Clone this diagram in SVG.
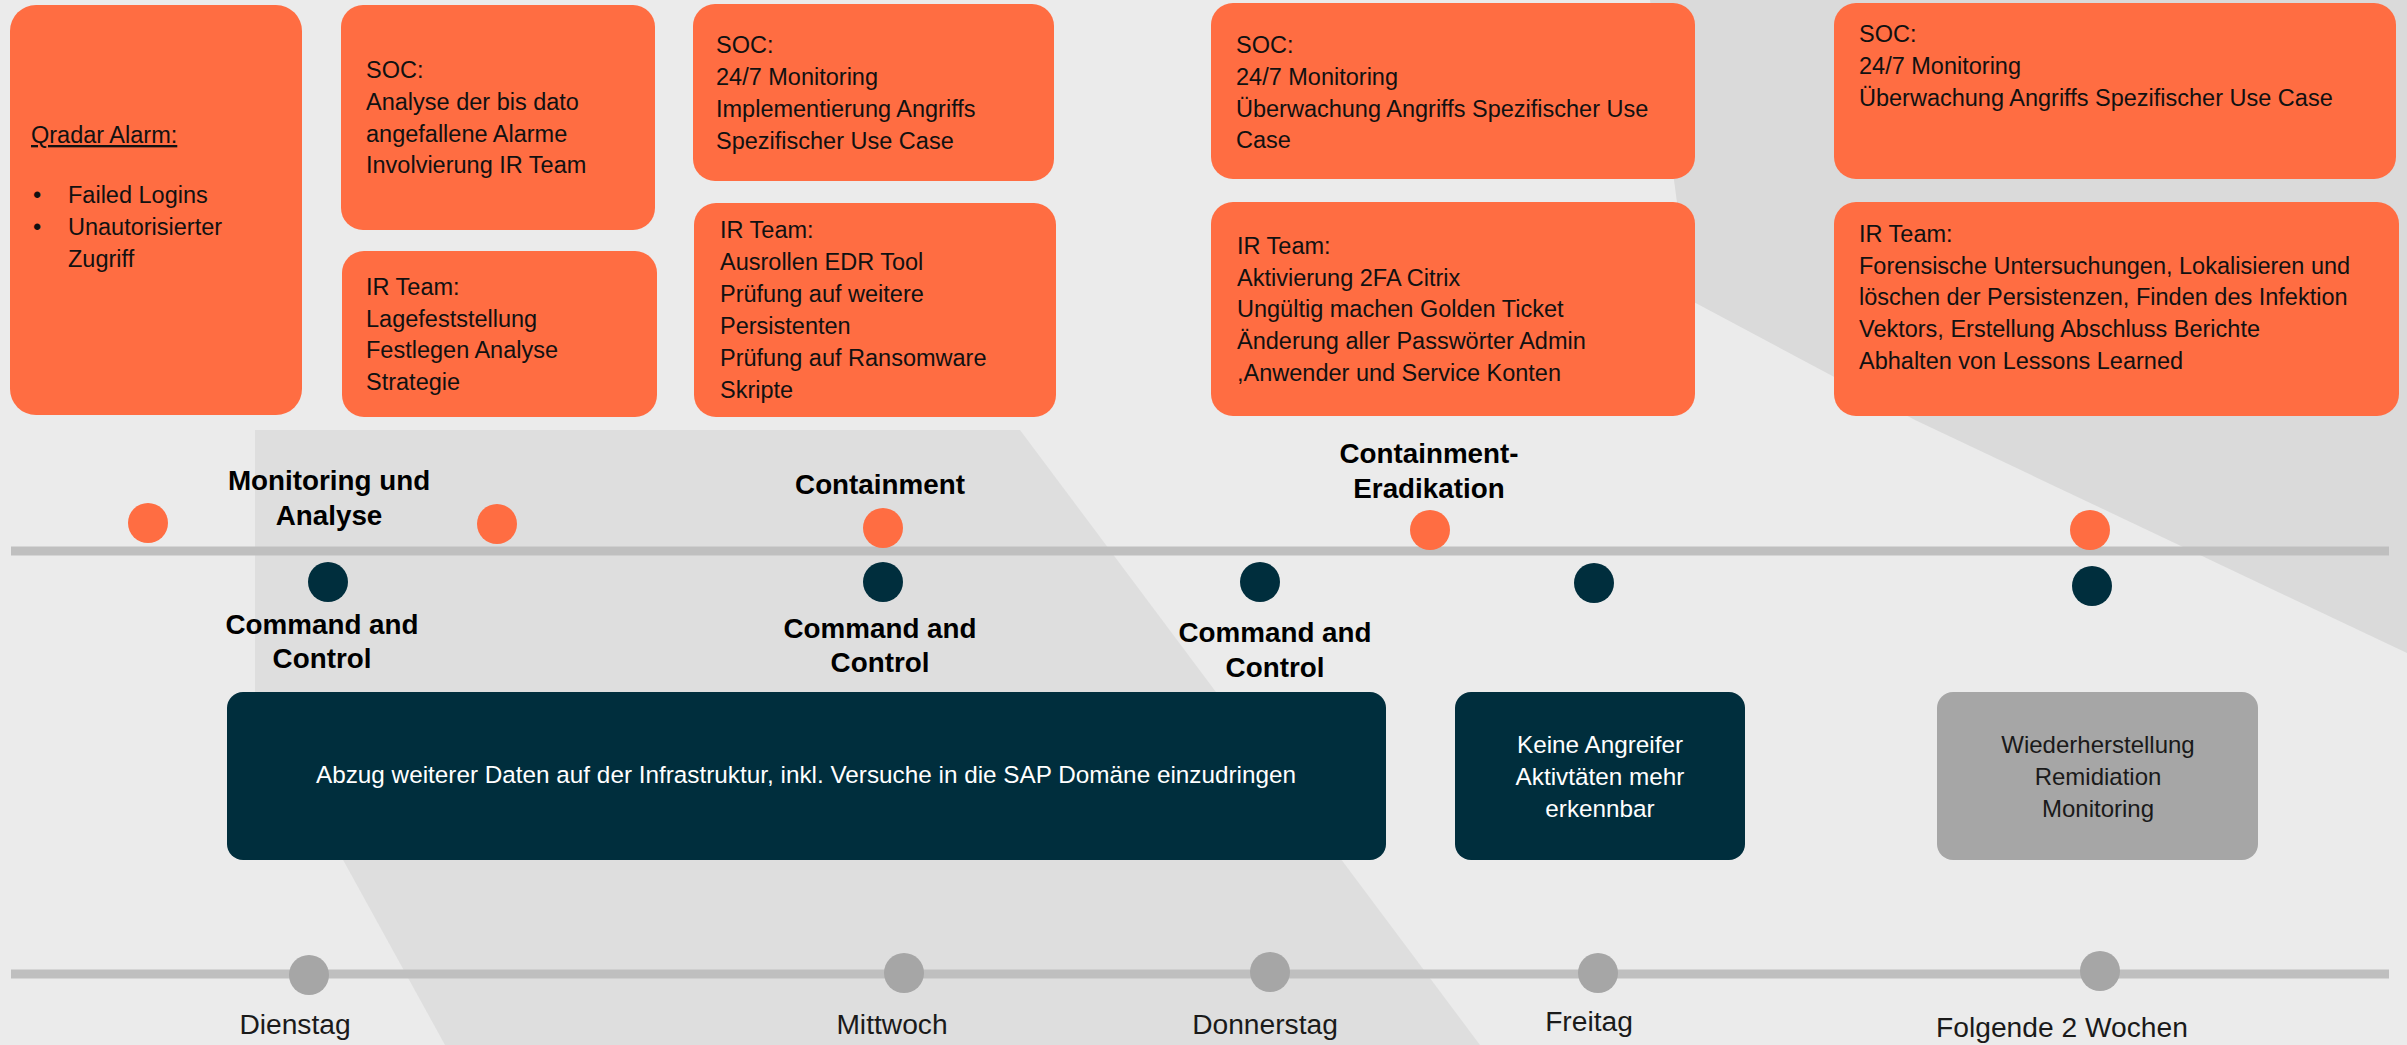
<svg xmlns="http://www.w3.org/2000/svg" width="2407" height="1045" viewBox="0 0 2407 1045">
<style>
.ob{fill:#FF6D42}
.db{fill:#002E3D}
.gb{fill:#A6A6A6}
.t{font-family:"Liberation Sans",Arial,sans-serif;font-size:23.5px;fill:#111}
.w{font-family:"Liberation Sans",Arial,sans-serif;font-size:24.3px;fill:#fff;text-anchor:middle}
.k{font-family:"Liberation Sans",Arial,sans-serif;font-size:24px;fill:#1a1a1a;text-anchor:middle}
.h{font-family:"Liberation Sans",Arial,sans-serif;font-size:27.8px;font-weight:bold;fill:#000;text-anchor:middle}
.d{font-family:"Liberation Sans",Arial,sans-serif;font-size:28.2px;fill:#1a1a1a;text-anchor:middle}
.od{fill:#FF6D42}
.nd{fill:#002E3D}
.gd{fill:#A6A6A6}
.ln{stroke:#BFBFBF;stroke-width:9;fill:none}
</style>
<g id="background">
<rect x="0" y="0" width="2407" height="1045" fill="#EBEBEB"/>
<polygon points="255,430 1020,430 1480,1045 445,1045 255,700" fill="#DEDEDE"/>
<polygon points="1650,0 2407,0 2407,653 1915,420 1690,300" fill="#DADADA"/>
</g>
<g id="connectors">
<line class="ln" x1="11" y1="551" x2="2389" y2="551"/>
<line class="ln" x1="11" y1="974" x2="2389" y2="974"/>
</g>
<g id="qradar">
<rect class="ob" x="10" y="5" width="292" height="410" rx="26"/>
<text class="t" x="31" y="143" text-decoration="underline">Qradar Alarm:</text>
<text class="t" x="33" y="203">•</text><text class="t" x="68" y="203">Failed Logins</text>
<text class="t" x="33" y="235">•</text><text class="t" x="68" y="235">Unautorisierter</text>
<text class="t" x="68" y="267">Zugriff</text>
</g>
<g id="soc1">
<rect class="ob" x="341" y="5" width="314" height="225" rx="22"/>
<text class="t" x="366" y="78">SOC:</text>
<text class="t" x="366" y="110">Analyse der bis dato</text>
<text class="t" x="366" y="142">angefallene Alarme</text>
<text class="t" x="366" y="173">Involvierung IR Team</text>
</g>
<g id="ir1">
<rect class="ob" x="342" y="251" width="315" height="166" rx="22"/>
<text class="t" x="366" y="295">IR Team:</text>
<text class="t" x="366" y="327">Lagefeststellung</text>
<text class="t" x="366" y="358">Festlegen Analyse</text>
<text class="t" x="366" y="390">Strategie</text>
</g>
<g id="soc2">
<rect class="ob" x="693" y="4" width="361" height="177" rx="22"/>
<text class="t" x="716" y="53">SOC:</text>
<text class="t" x="716" y="85">24/7 Monitoring</text>
<text class="t" x="716" y="117">Implementierung Angriffs</text>
<text class="t" x="716" y="149">Spezifischer Use Case</text>
</g>
<g id="ir2">
<rect class="ob" x="694" y="203" width="362" height="214" rx="22"/>
<text class="t" x="720" y="238">IR Team:</text>
<text class="t" x="720" y="270">Ausrollen EDR Tool</text>
<text class="t" x="720" y="302">Prüfung auf weitere</text>
<text class="t" x="720" y="334">Persistenten</text>
<text class="t" x="720" y="366">Prüfung auf Ransomware</text>
<text class="t" x="720" y="398">Skripte</text>
</g>
<g id="soc3">
<rect class="ob" x="1211" y="3" width="484" height="176" rx="22"/>
<text class="t" x="1236" y="53">SOC:</text>
<text class="t" x="1236" y="85">24/7 Monitoring</text>
<text class="t" x="1236" y="117">Überwachung Angriffs Spezifischer Use</text>
<text class="t" x="1236" y="148">Case</text>
</g>
<g id="ir3">
<rect class="ob" x="1211" y="202" width="484" height="214" rx="22"/>
<text class="t" x="1237" y="254">IR Team:</text>
<text class="t" x="1237" y="286">Aktivierung 2FA Citrix</text>
<text class="t" x="1237" y="317">Ungültig machen Golden Ticket</text>
<text class="t" x="1237" y="349">Änderung aller Passwörter Admin</text>
<text class="t" x="1237" y="381">,Anwender und Service Konten</text>
</g>
<g id="soc4">
<rect class="ob" x="1834" y="3" width="562" height="176" rx="22"/>
<text class="t" x="1859" y="42">SOC:</text>
<text class="t" x="1859" y="74">24/7 Monitoring</text>
<text class="t" x="1859" y="106">Überwachung Angriffs Spezifischer Use Case</text>
</g>
<g id="ir4">
<rect class="ob" x="1834" y="202" width="565" height="214" rx="22"/>
<text class="t" x="1859" y="242">IR Team:</text>
<text class="t" x="1859" y="274">Forensische Untersuchungen, Lokalisieren und</text>
<text class="t" x="1859" y="305">löschen der Persistenzen, Finden des Infektion</text>
<text class="t" x="1859" y="337">Vektors, Erstellung Abschluss Berichte</text>
<text class="t" x="1859" y="369">Abhalten von Lessons Learned</text>
</g>
<g id="phase-dots">
<circle class="od" cx="148" cy="523" r="20"/>
<circle class="od" cx="497" cy="524" r="20"/>
<circle class="od" cx="883" cy="528" r="20"/>
<circle class="od" cx="1430" cy="530" r="20"/>
<circle class="od" cx="2090" cy="530" r="20"/>
</g>
<g id="c2-dots">
<circle class="nd" cx="328" cy="582" r="20"/>
<circle class="nd" cx="883" cy="582" r="20"/>
<circle class="nd" cx="1260" cy="582" r="20"/>
<circle class="nd" cx="1594" cy="583" r="20"/>
<circle class="nd" cx="2092" cy="586" r="20"/>
</g>
<g id="phase-labels">
<text class="h" x="329" y="490">Monitoring und</text>
<text class="h" x="329" y="525">Analyse</text>
<text class="h" x="880" y="494">Containment</text>
<text class="h" x="1429" y="463">Containment-</text>
<text class="h" x="1429" y="498">Eradikation</text>
</g>
<g id="c2-labels">
<text class="h" x="322" y="634">Command and</text>
<text class="h" x="322" y="668">Control</text>
<text class="h" x="880" y="638">Command and</text>
<text class="h" x="880" y="672">Control</text>
<text class="h" x="1275" y="642">Command and</text>
<text class="h" x="1275" y="677">Control</text>
</g>
<g id="exfil">
<rect class="db" x="227" y="692" width="1159" height="168" rx="16"/>
<text class="w" x="806" y="783">Abzug weiterer Daten auf der Infrastruktur, inkl. Versuche in die SAP Domäne einzudringen</text>
</g>
<g id="keine">
<rect class="db" x="1455" y="692" width="290" height="168" rx="16"/>
<text class="w" x="1600" y="753">Keine Angreifer</text>
<text class="w" x="1600" y="785">Aktivtäten mehr</text>
<text class="w" x="1600" y="817">erkennbar</text>
</g>
<g id="recovery">
<rect class="gb" x="1937" y="692" width="321" height="168" rx="16"/>
<text class="k" x="2098" y="753">Wiederherstellung</text>
<text class="k" x="2098" y="785">Remidiation</text>
<text class="k" x="2098" y="817">Monitoring</text>
</g>
<g id="day-dots">
<circle class="gd" cx="309" cy="975" r="20"/>
<circle class="gd" cx="904" cy="973" r="20"/>
<circle class="gd" cx="1270" cy="972" r="20"/>
<circle class="gd" cx="1598" cy="973" r="20"/>
<circle class="gd" cx="2100" cy="971" r="20"/>
</g>
<g id="day-labels">
<text class="d" x="295" y="1034">Dienstag</text>
<text class="d" x="892" y="1034">Mittwoch</text>
<text class="d" x="1265" y="1034">Donnerstag</text>
<text class="d" x="1589" y="1031">Freitag</text>
<text class="d" x="2062" y="1037">Folgende 2 Wochen</text>
</g>
</svg>
